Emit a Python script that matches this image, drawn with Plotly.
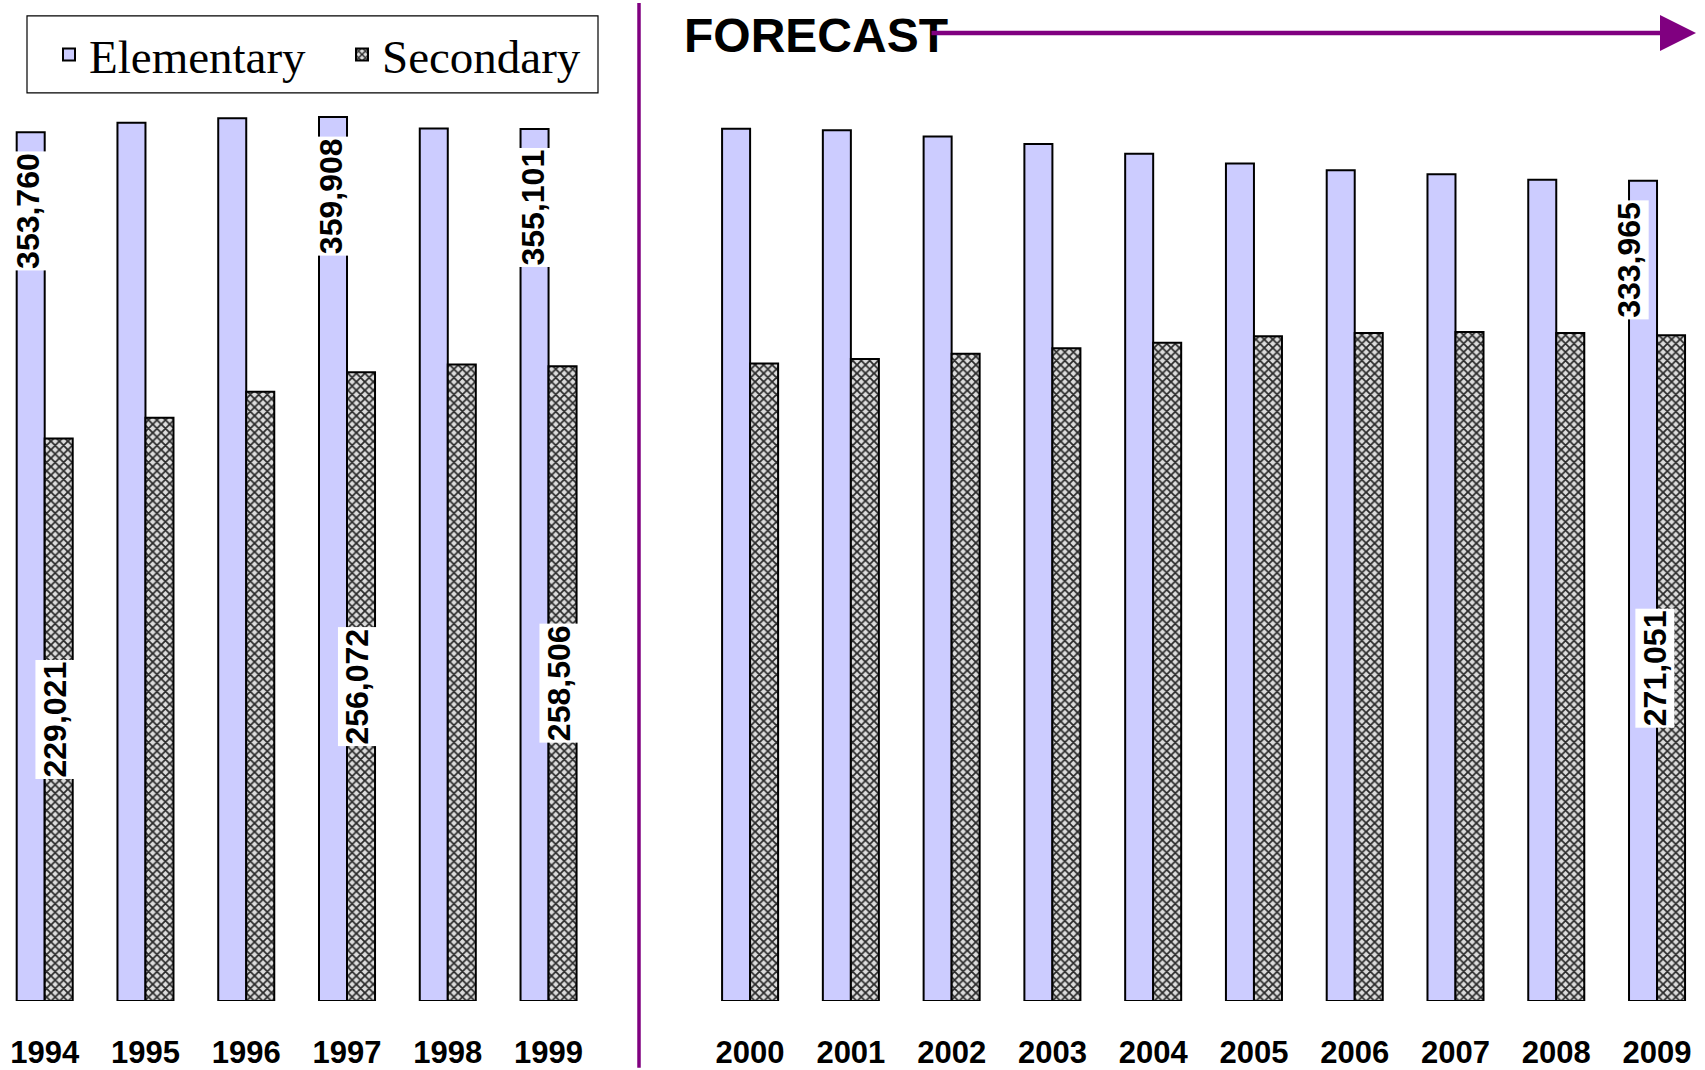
import plotly.graph_objects as go

# ---- data ----
years = ["1994", "1995", "1996", "1997", "1998", "1999",
         "2000", "2001", "2002", "2003", "2004", "2005", "2006", "2007", "2008", "2009"]
elementary = [353760, 357600, 359500, 359908, 355300, 355101,
              355200, 354600, 352000, 349000, 345000, 341000, 338300, 336600, 334400, 333965]
secondary = [229021, 237500, 248100, 256072, 259200, 258506,
             259600, 261400, 263600, 265800, 268000, 270700, 272000, 272400, 272000, 271051]
labelled_years = ["1994", "1997", "1999", "2009"]
forecast_from = "2000"
series_names = ["Elementary", "Secondary"]

# ---- layout helpers ----
# one empty slot separates the actual years from the forecast years
pos = [i + (1 if int(y) >= int(forecast_from) else 0) for i, y in enumerate(years)]
BARGAP = 0.444
half = (1 - BARGAP) / 4.0  # centre offset of each bar inside its group

W, H = 1705, 1070
MB = 67
PLOT_H = H - MB


def py(px):
    """paper y from a pixel row measured from the top of the figure"""
    return 1 - px / PLOT_H


fig = go.Figure()
fig.add_trace(go.Bar(
    x=pos, y=elementary, name=series_names[0], legend="legend",
    marker=dict(color="#CCCCFF", line=dict(color="black", width=2)),
))
fig.add_trace(go.Bar(
    x=pos, y=secondary, name=series_names[1], legend="legend2",
    marker=dict(color="#8a8a8a", line=dict(color="black", width=2),
                pattern=dict(shape="x", fgcolor="#2a2a2a", bgcolor="#dcdcdc",
                             size=6, solidity=0.5, fillmode="replace")),
))

annotations = []
label_font = dict(family="Liberation Sans, Arial, sans-serif", size=32, color="black")
for p, y, e, s in zip(pos, years, elementary, secondary):
    if y not in labelled_years:
        continue
    extra = -12 if y == years[-1] else 0
    annotations.append(dict(
        x=p - half, y=e, xref="x", yref="y", text=f"<b>{e:,}</b>", showarrow=False,
        textangle=-90, xanchor="center", yanchor="middle", yshift=-79, xshift=-2 + extra,
        bgcolor="white", borderpad=1, font=label_font))
    annotations.append(dict(
        x=p + half, y=s / 2.0, xref="x", yref="y", text=f"<b>{s:,}</b>", showarrow=False,
        textangle=-90, xanchor="center", yanchor="middle", xshift=-4 + extra,
        bgcolor="white", borderpad=1, font=label_font))

# FORECAST title and arrow
annotations.append(dict(
    x=682 / W, y=py(36), xref="paper", yref="paper", text="<b>FORECAST</b>",
    showarrow=False, xanchor="left", yanchor="middle",
    font=dict(family="Liberation Sans, Arial, sans-serif", size=48, color="black")))
annotations.append(dict(
    x=1696 / W, y=py(33), xref="paper", yref="paper", text="",
    showarrow=True, axref="pixel", ayref="pixel", ax=-(1696 - 930), ay=0,
    arrowhead=2, arrowsize=1.6, arrowwidth=4.5, arrowcolor="#800080", standoff=0))

legend_font = dict(family="Liberation Serif, Times New Roman, serif", size=47, color="black")
fig.update_layout(
    width=W, height=H,
    margin=dict(l=0, r=0, t=0, b=MB, pad=0),
    paper_bgcolor="white", plot_bgcolor="white",
    barmode="group", bargap=BARGAP, bargroupgap=0,
    showlegend=True,
    legend=dict(orientation="h", x=49 / W, y=py(55), xanchor="left", yanchor="middle",
                bgcolor="rgba(0,0,0,0)", borderwidth=0, font=legend_font),
    legend2=dict(orientation="h", x=342 / W, y=py(55), xanchor="left", yanchor="middle",
                 bgcolor="rgba(0,0,0,0)", borderwidth=0, font=legend_font),
    xaxis=dict(
        range=[-0.4436, 16.476], tickmode="array", tickvals=pos, ticktext=years,
        showgrid=False, zeroline=False, showline=False, ticks="",
        ticklabelstandoff=30,
        tickfont=dict(family="Liberation Sans, Arial, sans-serif", size=31, color="black", weight="bold"),
    ),
    yaxis=dict(range=[0, 407600], visible=False, showgrid=False, zeroline=False),
    shapes=[
        dict(type="line", xref="paper", yref="paper", x0=639 / W, x1=639 / W,
             y0=py(H), y1=py(3), line=dict(color="#800080", width=3.5)),
        dict(type="rect", xref="paper", yref="paper", x0=27 / W, x1=598 / W,
             y0=py(93), y1=py(16), line=dict(color="black", width=1.2), fillcolor="white",
             layer="below"),
    ],
    annotations=annotations,
)

fig.write_html("out.html", config={"displayModeBar": False},
               post_script="document.body.style.margin='0px';document.body.style.overflow='hidden';")
